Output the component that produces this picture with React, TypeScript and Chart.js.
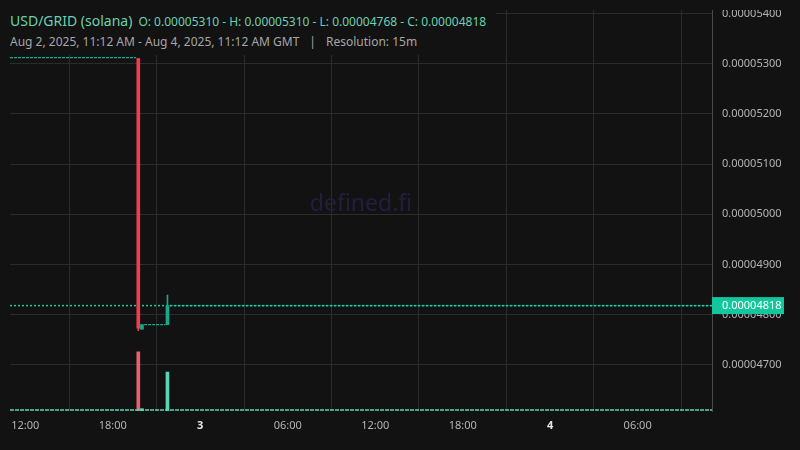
import React, { useEffect, useRef } from 'react';
import { Chart, registerables } from 'chart.js';

Chart.register(...registerables);

const BG = '#121212';
const UP = '#1aa88c';
const DOWN = '#f23d4f';
const UP_VOL = '#5cd3b2';
const DOWN_VOL = '#e9606f';

// x values are hours since Aug 2, 2025 00:00 GMT
const xMin = 10.95;
const xMax = 59.1;
const timeTicks = [12, 18, 24, 30, 36, 42, 48, 54];
const timeLabels = ['12:00', '18:00', '3', '06:00', '12:00', '18:00', '4', '06:00'];

const priceMin = 0.00004608;
const priceMax = 0.00005407;
const priceTicks = [0.000047, 0.000048, 0.000049, 0.00005, 0.000051, 0.000052, 0.000053, 0.000054];

// the candles that actually move
const candleTimes = [19.75, 20.0, 21.75];
const opens = [0.0000531, 0.00004771, 0.0000478];
const highs = [0.0000531, 0.0000478, 0.00004839];
const lows = [0.00004768, 0.00004771, 0.0000478];
const closes = [0.00004773, 0.0000478, 0.00004818];
const volumes = [1520, 60, 1000];

// flat stretches (open = close for every 15m bar)
const flatStarts = [10.95, 20.15, 21.9];
const flatEnds = [19.6, 21.62, 59.1];
const flatPrices = [0.00005312, 0.0000478, 0.00004818];
const flatVolume = 25;

const lastClose = 0.00004818;

const fmt = (v: number) => v.toFixed(8);
const isDay = (i: any) => typeof i === 'number' && !!timeLabels[i] && !timeLabels[i].includes(':');

const App: React.FC = () => {
  const chartRef = useRef<HTMLCanvasElement | null>(null);
  const myChart = useRef<Chart | null>(null);

  useEffect(() => {
    document.body.style.margin = '0';
    document.body.style.background = BG;
    if (!chartRef.current) return;
    const ctx = chartRef.current.getContext('2d');
    if (!ctx) return;
    if (myChart.current) myChart.current.destroy();

    const isUp = (i: number) => closes[i] >= opens[i];

    const flatSets = flatPrices.map((p, i) => ({
      type: 'line' as const,
      data: [
        { x: flatStarts[i], y: p },
        { x: flatEnds[i], y: p },
      ],
      borderColor: UP,
      borderWidth: 1.2,
      borderDash: [3, 1],
      pointRadius: 0,
      yAxisID: 'y',
      order: 3,
    }));

    const overlay = {
      id: 'overlay',
      beforeDatasetsDraw(chart: Chart) {
        const { ctx: c, chartArea: a } = chart;
        c.save();
        c.fillStyle = '#221f3e';
        c.font = '23px "Noto Sans"';
        c.textAlign = 'center';
        c.textBaseline = 'middle';
        c.fillText('defined.fi', (a.left + a.right) / 2, (a.top + a.bottom) / 2 - 6);
        c.restore();
      },
      afterDraw(chart: Chart) {
        const { ctx: c, chartArea: a } = chart;
        const y = chart.scales.y.getPixelForValue(lastClose);
        c.save();
        c.fillStyle = BG;
        c.fillRect(a.right + 1, 0, chart.width - a.right, a.top);
        c.fillStyle = '#12c79b';
        c.fillRect(a.right, y - 8.5, 72, 17);
        c.fillStyle = '#ffffff';
        c.font = '11px "Noto Sans"';
        c.textBaseline = 'middle';
        c.textAlign = 'left';
        c.fillText(fmt(lastClose), a.right + 10, y + 0.5);
        c.restore();
      },
    };

    myChart.current = new Chart(ctx, {
      type: 'bar',
      data: {
        datasets: [
          {
            type: 'bar',
            data: candleTimes.map((t, i) => ({ x: t, y: [opens[i], closes[i]] })),
            backgroundColor: candleTimes.map((_, i) => (isUp(i) ? UP : DOWN)),
            barThickness: 3,
            grouped: false,
            yAxisID: 'y',
            order: 0,
          },
          {
            type: 'bar',
            data: candleTimes.map((t, i) => ({ x: t, y: [lows[i], highs[i]] })),
            backgroundColor: candleTimes.map((_, i) => (isUp(i) ? UP : DOWN)),
            barThickness: 1,
            grouped: false,
            yAxisID: 'y',
            order: 1,
          },
          {
            type: 'line',
            data: [
              { x: xMin, y: lastClose },
              { x: xMax, y: lastClose },
            ],
            borderColor: '#1ccb9f',
            borderWidth: 1.5,
            borderDash: [2, 2],
            pointRadius: 0,
            yAxisID: 'y',
            order: 2,
          },
          ...flatSets,
          {
            type: 'line',
            data: [
              { x: xMin, y: flatVolume },
              { x: xMax, y: flatVolume },
            ],
            borderColor: UP_VOL,
            borderWidth: 1.5,
            borderDash: [4, 1],
            pointRadius: 0,
            yAxisID: 'v',
            order: 5,
          },
          {
            type: 'bar',
            data: candleTimes.map((t, i) => ({ x: t, y: volumes[i] })),
            backgroundColor: candleTimes.map((_, i) => (isUp(i) ? UP_VOL : DOWN_VOL)),
            barThickness: 3,
            grouped: false,
            yAxisID: 'v',
            order: 6,
          },
        ] as any,
      },
      options: {
        animation: false,
        responsive: true,
        maintainAspectRatio: false,
        layout: { padding: { left: 10, top: 10, right: 0, bottom: 0 } },
        plugins: {
          legend: { display: false },
          tooltip: { enabled: false },
        },
        scales: {
          x: {
            type: 'linear',
            min: xMin,
            max: xMax,
            offset: false,
            afterBuildTicks: (scale: any) => {
              scale.ticks = timeTicks.map((v) => ({ value: v }));
            },
            afterFit: (scale: any) => {
              scale.height = 39;
              scale.paddingLeft = 0;
              scale.paddingRight = 0;
            },
            grid: { color: '#2c2c2c', drawTicks: false },
            border: { display: false },
            ticks: {
              padding: 8,
              maxRotation: 0,
              autoSkip: false,
              callback: (_v: any, i: number) => timeLabels[i],
              color: (c: any) => (isDay(c.index) ? '#e6e6e6' : '#b4b4b4'),
              font: (c: any) => ({
                family: '"Noto Sans"',
                size: 11,
                weight: isDay(c.index) ? 'bold' : 'normal',
              }),
            },
          },
          y: {
            type: 'linear',
            position: 'right',
            min: priceMin,
            max: priceMax,
            afterBuildTicks: (scale: any) => {
              scale.ticks = priceTicks.map((v) => ({ value: v }));
            },
            afterFit: (scale: any) => {
              scale.width = 88;
              scale.paddingTop = 0;
              scale.paddingBottom = 0;
            },
            grid: { color: '#2c2c2c', drawTicks: false },
            border: { color: '#4a4a4a' },
            ticks: {
              padding: 10,
              color: '#b4b4b4',
              font: { family: '"Noto Sans"', size: 11 },
              callback: (v: any) => fmt(Number(v)),
            },
          },
          v: {
            type: 'linear',
            display: false,
            min: 0,
            max: 10300,
          },
        },
      },
      plugins: [overlay],
    });

    return () => {
      if (myChart.current) {
        myChart.current.destroy();
        myChart.current = null;
      }
    };
  }, []);

  return (
    <div style={{ position: 'relative', width: 800, height: 450, background: BG, fontFamily: '"Noto Sans"' }}>
      <canvas ref={chartRef}></canvas>
      <div
        style={{
          position: 'absolute',
          left: 0,
          top: 0,
          padding: '9.5px 10px 3.5px 10px',
          background: BG,
          lineHeight: '20px',
          whiteSpace: 'nowrap',
        }}
      >
        <div style={{ color: '#6bd1b0' }}>
          <span style={{ fontSize: 14 }}>USD/GRID (solana)</span>
          <span style={{ fontSize: 12, marginLeft: 6 }}>
            O: 0.00005310 - H: 0.00005310 - L: 0.00004768 - C: 0.00004818
          </span>
        </div>
        <div style={{ color: '#a6a6a6', fontSize: 12 }}>
          <span>Aug 2, 2025, 11:12 AM - Aug 4, 2025, 11:12 AM GMT</span>
          <span style={{ margin: '0 10px' }}>|</span>
          <span>Resolution: 15m</span>
        </div>
      </div>
    </div>
  );
};

export default App;
